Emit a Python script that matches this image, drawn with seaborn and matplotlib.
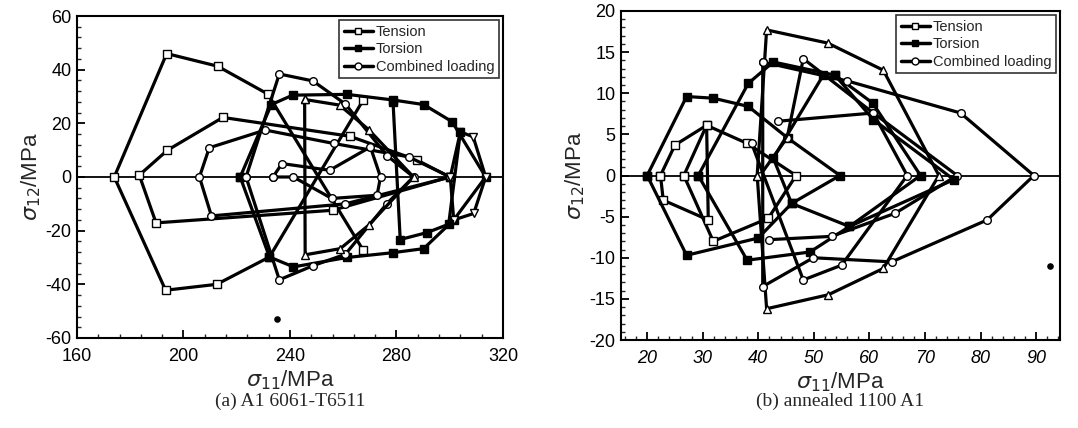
import matplotlib
matplotlib.use("Agg")
import matplotlib.pyplot as plt
from matplotlib.lines import Line2D
from matplotlib.ticker import MultipleLocator
import pandas as pd
import seaborn as sns

# ---- panel (a): Al 6061-T6511, yield loci ----
a_sq1_x = [267.5, 232.3, 212.5, 193.3, 174.0, 193.7, 212.8, 231.7, 267.5]
a_sq1_y = [28.7, -29.8, -40.0, -42.2, 0.0, 46.0, 41.3, 30.9, -27.3]

a_sq2_x = [300.0, 287.7, 262.4, 214.8, 194.0, 183.4, 189.7, 256.0, 300.0]
a_sq2_y = [0.0, 6.3, 15.2, 22.2, 10.0, 0.7, -17.1, -12.4, 0.0]

a_ci1_x = [300.2, 284.6, 256.4, 230.7, 209.7, 206.0, 210.5, 260.8, 300.2]
a_ci1_y = [0.0, 7.5, 12.5, 17.5, 10.9, 0.0, -14.5, -10.0, 0.0]

a_to1_x = [221.3, 233.0, 241.0, 261.4, 278.7, 290.2, 300.9, 313.5, 301.5, 290.2, 278.7, 261.4, 241.3, 232.3, 221.3]
a_to1_y = [0.0, 27.0, 30.5, 30.8, 28.7, 27.0, 20.6, 0.0, -16.0, -26.7, -28.2, -30.0, -33.5, -29.8, 0.0]

a_ci2_x = [223.5, 236.0, 248.6, 260.8, 276.4, 286.4, 276.4, 260.8, 248.8, 236.0, 223.5]
a_ci2_y = [0.0, 38.4, 35.8, 27.2, 8.0, 0.0, -9.9, -28.8, -33.0, -38.3, 0.0]

a_tr1_x = [245.5, 258.6, 269.5, 286.4, 269.5, 258.9, 245.7, 245.5]
a_tr1_y = [28.9, 26.8, 17.7, 0.0, -18.0, -26.7, -29.0, 28.9]

a_td1_x = [300.2, 304.0, 308.8, 313.5, 309.0, 301.5, 300.2]
a_td1_y = [0.0, 16.8, 15.0, 0.0, -13.6, -16.0, 0.0]

a_ci3_x = [233.6, 237.0, 254.9, 270.2, 274.0, 272.7, 255.7, 241.3, 233.6]
a_ci3_y = [0.0, 5.0, 2.5, 11.2, 0.0, -6.8, -8.0, 0.0, 0.0]

a_to2_x = [278.7, 281.4, 291.5, 299.6, 304.0]
a_to2_y = [28.0, -23.3, -20.7, -17.6, 16.8]

# ---- panel (b): annealed 1100 Al ----
b_sq1_x = [26.6, 30.7, 38.0, 46.8, 41.8, 31.9, 26.6]
b_sq1_y = [0.0, 6.1, 3.9, 0.0, -5.2, -8.0, 0.0]

b_sq2_x = [22.4, 25.0, 30.7, 31.0, 22.9, 22.4]
b_sq2_y = [0.0, 3.7, 6.1, -5.4, -3.0, 0.0]

b_to1_x = [20.0, 27.1, 31.9, 38.2, 45.4, 54.7, 46.0, 40.0, 27.1, 20.0]
b_to1_y = [0.0, 9.6, 9.4, 8.4, 4.5, 0.0, -3.4, -7.6, -9.7, 0.0]

b_to2_x = [29.2, 38.2, 42.7, 53.8, 60.6, 69.2, 56.4, 49.3, 38.0, 29.2]
b_to2_y = [0.0, 11.2, 13.8, 12.2, 8.8, 0.0, -6.2, -9.3, -10.3, 0.0]

b_ci1_x = [40.3, 45.2, 48.1, 60.7, 66.8, 55.0, 48.1, 38.8]
b_ci1_y = [0.0, 4.6, 14.2, 7.6, 0.0, -10.9, -12.7, 3.9]

b_tr1_x = [39.8, 41.5, 52.5, 62.5, 72.5, 62.5, 52.6, 41.5, 39.8]
b_tr1_y = [0.0, 17.7, 16.1, 12.8, 0.0, -11.3, -14.5, -16.2, 0.0]

b_cl1_x = [40.8, 56.0, 76.4, 89.6, 81.2, 64.0, 49.9, 40.8, 40.8]
b_cl1_y = [13.8, 11.5, 7.6, 0.0, -5.4, -10.5, -10.0, -13.5, 13.8]

b_ci2_x = [43.6, 60.7, 75.8, 64.6, 53.2, 42.0]
b_ci2_y = [6.6, 7.6, 0.0, -4.6, -7.4, -7.8]

b_to3_x = [51.7, 42.7, 46.0, 56.4, 75.2, 60.7, 53.8]
b_to3_y = [12.2, 2.1, -3.4, -6.2, -0.5, 6.8, 12.2]

a_loci = [(a_sq1_x, a_sq1_y, "s", "white"), (a_sq2_x, a_sq2_y, "s", "white"),
          (a_ci1_x, a_ci1_y, "o", "white"), (a_to1_x, a_to1_y, "s", "black"),
          (a_ci2_x, a_ci2_y, "o", "white"), (a_tr1_x, a_tr1_y, "^", "white"),
          (a_td1_x, a_td1_y, "v", "white"), (a_ci3_x, a_ci3_y, "o", "white"),
          (a_to2_x, a_to2_y, "s", "black")]
b_loci = [(b_sq1_x, b_sq1_y, "s", "white"), (b_sq2_x, b_sq2_y, "s", "white"),
          (b_to1_x, b_to1_y, "s", "black"), (b_to2_x, b_to2_y, "s", "black"),
          (b_ci1_x, b_ci1_y, "o", "white"), (b_tr1_x, b_tr1_y, "^", "white"),
          (b_cl1_x, b_cl1_y, "o", "white"), (b_ci2_x, b_ci2_y, "o", "white"),
          (b_to3_x, b_to3_y, "s", "black")]

sns.set_theme(style="ticks")
plt.rcParams['font.family'] = ['Liberation Sans', 'DejaVu Sans']
plt.rcParams['mathtext.fontset'] = 'dejavusans'
plt.rcParams['axes.unicode_minus'] = False

fig = plt.figure(figsize=(10.78, 4.28), dpi=100)
ax_a = fig.add_axes([0.0714, 0.2103, 0.3952, 0.7523])
ax_b = fig.add_axes([0.5761, 0.2056, 0.4072, 0.7687])


def draw(ax, loci):
    ax.axhline(0, color="black", lw=1.3, zorder=1)
    for xs, ys, mk, fc in loci:
        df = pd.DataFrame({"x": xs, "y": ys})
        sns.lineplot(data=df, x="x", y="y", sort=False, estimator=None, ax=ax,
                     color="black", lw=2.3, marker=mk, markersize=5.5,
                     markerfacecolor=fc, markeredgecolor="black",
                     markeredgewidth=1.0, zorder=3)


draw(ax_a, a_loci)
draw(ax_b, b_loci)

# stray dots visible in the scan
ax_a.scatter([235], [-53], s=14, color="black", zorder=4)
ax_b.scatter([92.5], [-11], s=14, color="black", zorder=4)

ax_a.set_xlim(160, 320)
ax_a.set_ylim(-60, 60)
ax_a.xaxis.set_major_locator(MultipleLocator(40))
ax_a.xaxis.set_minor_locator(MultipleLocator(8))
ax_a.yaxis.set_major_locator(MultipleLocator(20))
ax_a.yaxis.set_minor_locator(MultipleLocator(4))

ax_b.set_xlim(15.3, 94.3)
ax_b.set_ylim(-20, 20)
ax_b.xaxis.set_major_locator(MultipleLocator(10))
ax_b.xaxis.set_minor_locator(MultipleLocator(2))
ax_b.yaxis.set_major_locator(MultipleLocator(5))
ax_b.yaxis.set_minor_locator(MultipleLocator(1))

for ax in (ax_a, ax_b):
    for sp in ax.spines.values():
        sp.set_linewidth(1.5)
        sp.set_color("black")
    ax.tick_params(which="major", direction="in", length=6, width=1.3,
                   labelsize=13, colors="black", pad=4)
    ax.tick_params(which="minor", direction="in", length=3, width=1.0)
    ax.tick_params(axis="x", which="major", pad=7)
    ax.set_xlabel(r"$\sigma_{11}$/MPa", fontsize=16, labelpad=3)
    ax.set_ylabel(r"$\sigma_{12}$/MPa", fontsize=16, labelpad=2)
    legend_handles = [
        Line2D([], [], color="black", lw=2.5, marker="s", markersize=5,
               markerfacecolor="white", label="Tension"),
        Line2D([], [], color="black", lw=2.5, marker="s", markersize=5,
               markerfacecolor="black", label="Torsion"),
        Line2D([], [], color="black", lw=2.5, marker="o", markersize=5,
               markerfacecolor="white", label="Combined loading"),
    ]
    leg = ax.legend(handles=legend_handles, loc="upper right", fontsize=10.5,
                    frameon=True, fancybox=False, edgecolor="black",
                    borderaxespad=0.3, handlelength=2.0, handletextpad=0.2,
                    labelspacing=0.25, borderpad=0.3)
    leg.get_frame().set_linewidth(1.2)

for lbl in ax_b.get_xticklabels():
    lbl.set_fontstyle("italic")

fig.text(0.2690, 0.062, "(a) A1 6061-T6511", ha="center", va="center",
         fontsize=14, family="Liberation Serif")
fig.text(0.7790, 0.062, "(b) annealed 1100 A1", ha="center", va="center",
         fontsize=14, family="Liberation Serif")

fig.savefig("out.png", dpi=100)
